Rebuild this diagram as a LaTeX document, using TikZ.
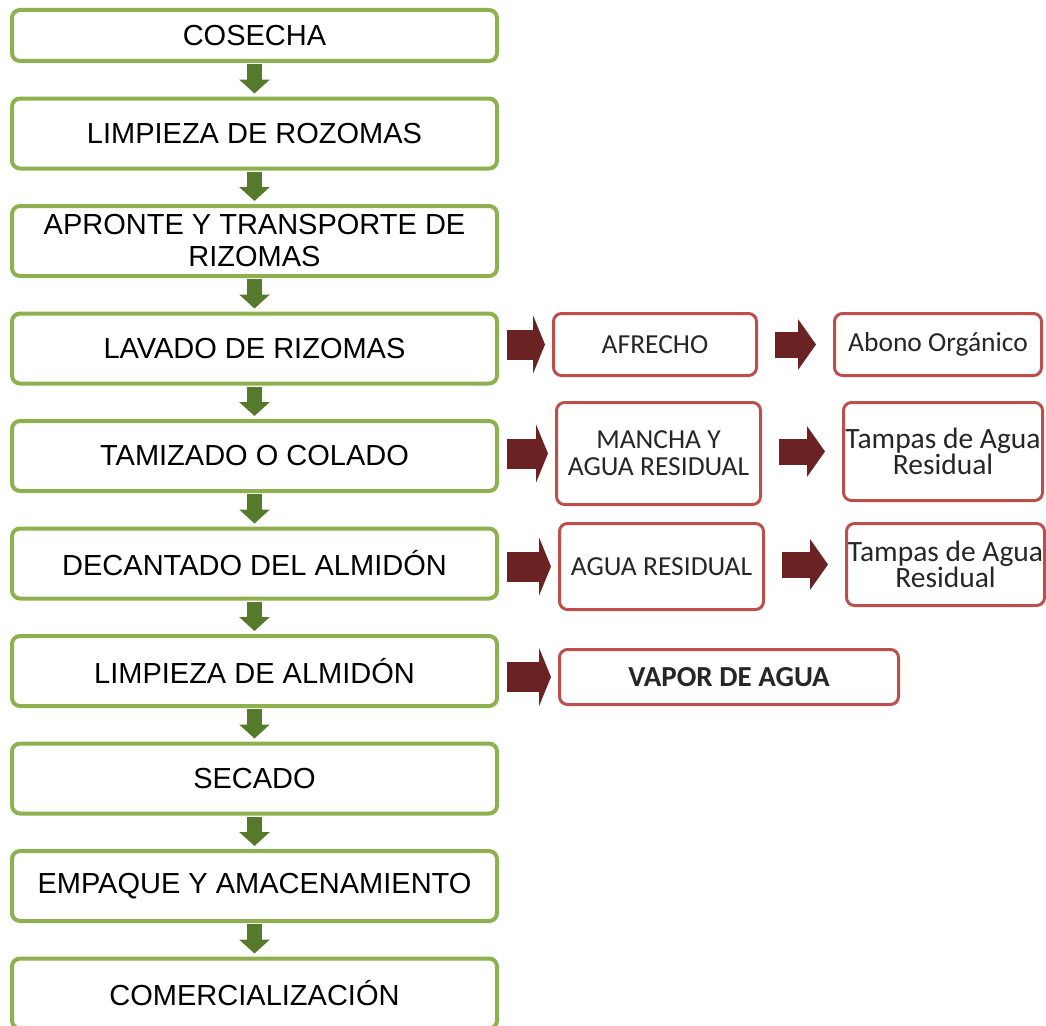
\documentclass[tikz,border=0pt]{standalone}
\usepackage{fontspec}
\setmainfont{Liberation Sans}
\newfontfamily\calfont{Carlito}
\usetikzlibrary{arrows.meta,positioning}
\definecolor{verdeborde}{HTML}{8EB04E}
\definecolor{verdeflecha}{HTML}{557A2B}
\definecolor{rojoborde}{HTML}{BC4F4C}
\definecolor{rojoflecha}{HTML}{6A2222}

\begin{document}
\begin{tikzpicture}[x=1pt, y=1pt, node distance=33.5pt]
\tikzstyle{etapa}=[draw=verdeborde, line width=4pt, rounded corners=8pt, fill=white, minimum width=485pt, minimum height=70pt, inner sep=0pt, align=center, font=\fontsize{29}{32}\selectfont]
\tikzstyle{residuo}=[draw=rojoborde, line width=3pt, rounded corners=8pt, fill=white, inner sep=0pt, align=center, text=black!85, font=\calfont\fontsize{27.5}{27}\selectfont]
\tikzstyle{tampas}=[residuo, font=\calfont\fontsize{29.5}{23}\selectfont]
\tikzstyle{flechaverde}=[draw=verdeflecha, line width=15pt, -{Triangle[width=30pt,length=14pt]}, shorten <=1pt, shorten >=3pt]
\tikzstyle{flecharoja}=[draw=rojoflecha, line width=30pt, -{Triangle[width=58pt,length=12pt]}, shorten <=8pt, shorten >=7pt]
\tikzstyle{flecharoja2}=[draw=rojoflecha, line width=26pt, -{Triangle[width=50pt,length=18pt]}, shorten <=17pt, shorten >=17pt]

\useasboundingbox (0,0) rectangle (1046,-1025);

% etapas del proceso
\node[etapa, minimum height=51pt] (b1) at (254.5,-35.5) {COSECHA};
\node[etapa]    (b2)[below=of b1]   {LIMPIEZA DE ROZOMAS};
\node[etapa]    (b3)[below=of b2]   {APRONTE  Y TRANSPORTE DE\\RIZOMAS};
\node[etapa]    (b4)[below=of b3]   {LAVADO DE RIZOMAS};
\node[etapa]    (b5)[below=of b4]   {TAMIZADO O COLADO};
\node[etapa]    (b6)[below=of b5]   {DECANTADO DEL ALMIDÓN};
\node[etapa]    (b7)[below=of b6]   {LIMPIEZA DE ALMIDÓN};
\node[etapa]    (b8)[below=of b7]   {SECADO};
\node[etapa]    (b9)[below=of b8]   {EMPAQUE Y AMACENAMIENTO};
\node[etapa]    (b10)[below=of b9]  {COMERCIALIZACIÓN};

% residuos
\node[residuo, minimum width=203pt, minimum height=62pt, right=53pt of b4, yshift=4pt] (r1a) {AFRECHO};
\node[residuo, minimum width=207pt, minimum height=62pt, right=75pt of r1a] (r1b) {Abono Orgánico};
\node[residuo, minimum width=204pt, minimum height=102pt, right=56pt of b5, yshift=2.5pt] (r2a) {MANCHA Y\\AGUA RESIDUAL};
\node[tampas, minimum width=199pt, minimum height=98pt, right=80pt of r2a, yshift=2pt] (r2b) {Tampas de Agua\\Residual};
\node[residuo, minimum width=204pt, minimum height=86pt, right=59pt of b6, yshift=-3pt] (r3a) {AGUA RESIDUAL};
\node[tampas, minimum width=198pt, minimum height=82pt, right=80pt of r3a, yshift=2pt] (r3b) {Tampas de Agua\\Residual};
\node[residuo, minimum width=339pt, minimum height=55pt, right=59pt of b7, yshift=-6pt, font=\calfont\bfseries\fontsize{29}{27}\selectfont] (r4) {VAPOR DE AGUA};

\path
(b1) edge[flechaverde] (b2)
(b2) edge[flechaverde] (b3)
(b3) edge[flechaverde] (b4)
(b4) edge[flechaverde] (b5)
(b5) edge[flechaverde] (b6)
(b6) edge[flechaverde] (b7)
(b7) edge[flechaverde] (b8)
(b8) edge[flechaverde] (b9)
(b9) edge[flechaverde] (b10);

\draw[flecharoja] (r1a.west -| b4.east) -- (r1a.west);
\draw[flecharoja2] (r1a) -- (r1b);
\draw[flecharoja] (r2a.west -| b5.east) -- (r2a.west);
\draw[flecharoja2] (r2b.west -| r2a.east) -- (r2b.west);
\draw[flecharoja] (r3a.west -| b6.east) -- (r3a.west);
\draw[flecharoja2] (r3b.west -| r3a.east) -- (r3b.west);
\draw[flecharoja] (r4.west -| b7.east) -- (r4.west);
\end{tikzpicture}
\end{document}
